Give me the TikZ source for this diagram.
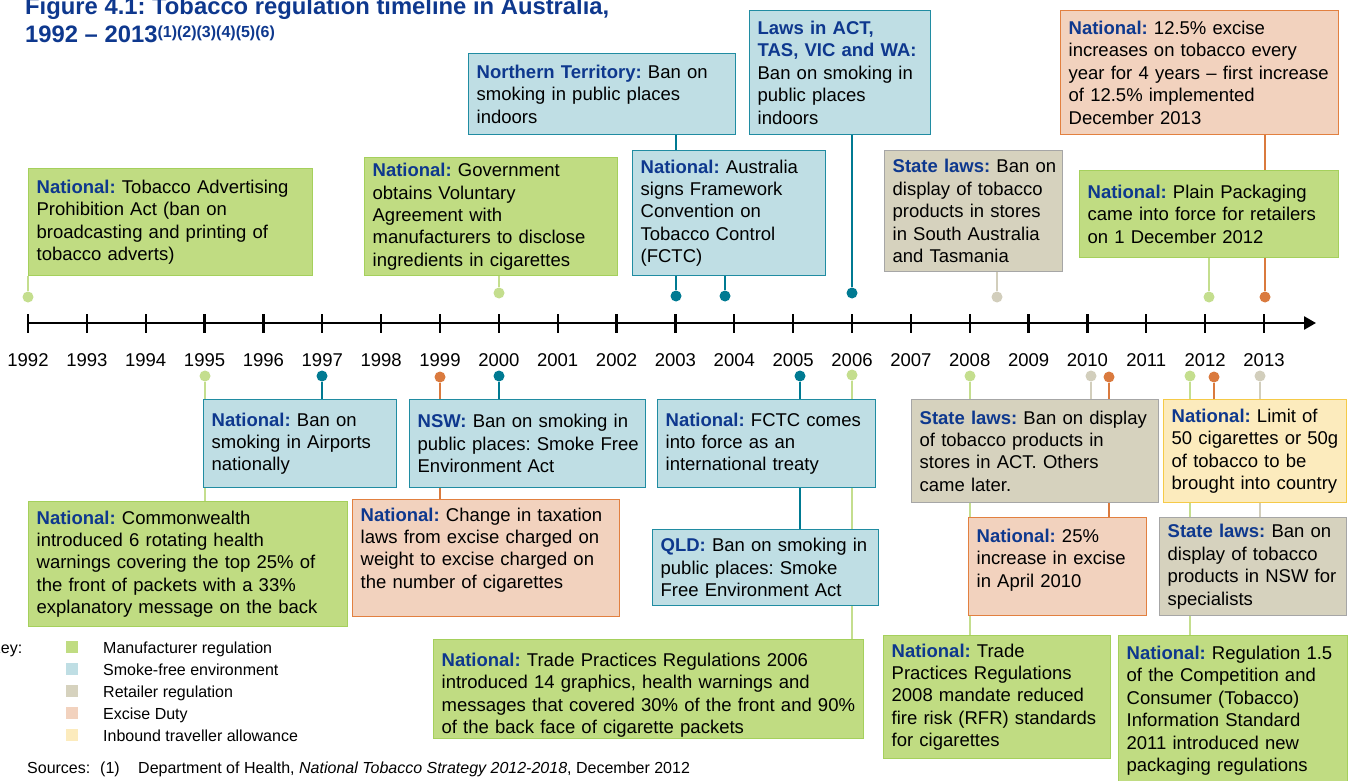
\documentclass[tikz,border=0pt]{standalone}
\usepackage{fontspec}
\setmainfont{Liberation Sans}
\usetikzlibrary{arrows.meta}
\pgfdeclarelayer{background}
\pgfsetlayers{background,main}

\definecolor{navy}{RGB}{14,56,142}
\definecolor{gfill}{RGB}{192,220,130}
\definecolor{gdraw}{RGB}{165,208,92}
\definecolor{gdot}{RGB}{196,222,142}
\definecolor{bfill}{RGB}{191,222,228}
\definecolor{bdraw}{RGB}{32,140,162}
\definecolor{bdot}{RGB}{0,122,146}
\definecolor{rfill}{RGB}{214,210,190}
\definecolor{rdraw}{RGB}{166,166,166}
\definecolor{rdot}{RGB}{210,206,188}
\definecolor{efill}{RGB}{242,210,190}
\definecolor{edraw}{RGB}{226,128,64}
\definecolor{edot}{RGB}{218,122,62}
\definecolor{yfill}{RGB}{252,235,189}
\definecolor{ydraw}{RGB}{245,202,72}

\newcommand{\lab}[1]{\textbf{\color{navy}#1}}
\newcommand{\bodyfont}{\fontsize{18.5}{22.4}\selectfont}
\newcommand{\keyfont}{\fontsize{16}{22}\selectfont}

\begin{document}
\frenchspacing\hyphenpenalty=10000\exhyphenpenalty=10000
\begin{tikzpicture}[x=1pt,y=-1pt]
	\tikzstyle{box}=[anchor=north west,align=left,inner xsep=8pt,inner ysep=0pt,line width=1.3pt,font=\bodyfont,execute at begin node={\rightskip=0pt minus 40pt\relax}]
	\tikzstyle{gbox}=[box,fill=gfill,draw=gdraw]
	\tikzstyle{bbox}=[box,fill=bfill,draw=bdraw]
	\tikzstyle{rbox}=[box,fill=rfill,draw=rdraw]
	\tikzstyle{ebox}=[box,fill=efill,draw=edraw]
	\tikzstyle{ybox}=[box,fill=yfill,draw=ydraw]
	\tikzstyle{dot}=[circle,inner sep=0pt,minimum size=11pt]
	\tikzstyle{link}=[line width=2.6pt]
	\tikzstyle{year}=[font=\bodyfont,inner sep=0pt]
	\tikzstyle{swatch}=[inner sep=0pt,minimum size=12pt]
	\tikzstyle{keytext}=[font=\keyfont,anchor=base west,inner sep=0pt]
	\useasboundingbox (0,0) rectangle (1352,781);

	% title
	\node[anchor=base west,inner sep=0pt,font=\fontsize{23.8}{28}\selectfont\bfseries,text=navy] (title1) at (25,15) {Figure 4.1: Tobacco regulation timeline in Australia,};
	\node[anchor=base west,inner sep=0pt,font=\fontsize{23.8}{28}\selectfont\bfseries,text=navy] (title2) at (25,43) {1992 -- 2013\raisebox{5.5pt}{\fontsize{16}{16}\selectfont(1)(2)(3)(4)(5)(6)}};

	% timeline
	\coordinate (ax0) at (27,323);
	\coordinate (ax1) at (1316,323);
	\draw[line width=2.6pt,-{Triangle[length=12pt,width=13pt]}] (ax0) -- (ax1);
	\foreach \yr [count=\i from 0] in {1992,...,2013} {
		\draw[line width=2.2pt] ({28+58.857*\i},314) -- ({28+58.857*\i},333);
		\node[year] (y\yr) at ({28+58.857*\i},360) {\yr};
	}

	% events above the line
	\node[gbox,text width=268pt,minimum height=107pt] (advert) at (28,168) {\lab{National:} Tobacco Advertising\\Prohibition Act (ban on\\broadcasting and printing of\\tobacco adverts)};
	\node[gbox,text width=237pt,minimum height=118pt] (ingred) at (364,157) {\lab{National:} Government\\obtains Voluntary\\Agreement with\\manufacturers to disclose\\ingredients in cigarettes};
	\node[bbox,text width=251pt,minimum height=81pt] (ntsmoke) at (468,53) {\lab{Northern Territory:} Ban on\\smoking in public places\\indoors};
	\node[bbox,text width=177pt,minimum height=125pt] (fctcsign) at (632,150) {\lab{National:} Australia\\signs Framework\\Convention on\\Tobacco Control\\(FCTC)};
	\node[bbox,text width=165pt,minimum height=124pt] (actlaws) at (749,10) {\lab{Laws in ACT,}\\\lab{TAS, VIC and WA:}\\Ban on smoking in\\public places\\indoors};
	\node[rbox,text width=162pt,minimum height=121pt] (sadisplay) at (884,150) {\lab{State laws:} Ban on\\display of tobacco\\products in stores\\in South Australia\\and Tasmania};
	\node[ebox,text width=262pt,minimum height=124pt] (excise13) at (1060,10) {\lab{National:} 12.5\% excise\\increases on tobacco every\\year for 4 years -- first increase\\of 12.5\% implemented\\December 2013};
	\node[gbox,text width=243pt,minimum height=87pt] (plainpack) at (1079,170) {\lab{National:} Plain Packaging\\came into force for retailers\\on 1 December 2012};

	% events below the line
	\node[bbox,text width=177pt,minimum height=88pt] (airports) at (203,399) {\lab{National:} Ban on\\smoking in Airports\\nationally};
	\node[gbox,text width=303pt,minimum height=125pt] (warnings) at (28,501) {\lab{National:} Commonwealth\\introduced 6 rotating health\\warnings covering the top 25\% of\\the front of packets with a 33\%\\explanatory message on the back};
	\node[bbox,text width=220pt,minimum height=88pt] (nswsmoke) at (409,399) {\lab{NSW:} Ban on smoking in\\public places: Smoke Free\\Environment Act};
	\node[ebox,text width=251pt,minimum height=117pt] (taxchange) at (352,499) {\lab{National:} Change in taxation\\laws from excise charged on\\weight to excise charged on\\the number of cigarettes\\[-2pt]\mbox{}};
	\node[bbox,text width=202pt,minimum height=88pt] (fctcforce) at (657,399) {\lab{National:} FCTC comes\\into force as an\\international treaty};
	\node[bbox,text width=210pt,minimum height=76pt] (qldsmoke) at (652,529) {\lab{QLD:} Ban on smoking in\\public places: Smoke\\Free Environment Act};
	\node[gbox,text width=414pt,minimum height=99pt] (tp2006) at (433,639) {\lab{National:} Trade Practices Regulations 2006\\introduced 14 graphics, health warnings and\\messages that covered 30\% of the front and 90\%\\of the back face of cigarette packets\\[-30.5pt]\mbox{}};
	\node[rbox,text width=231pt,minimum height=103pt] (actdisplay) at (911,399) {\lab{State laws:} Ban on display\\of tobacco products in\\stores in ACT. Others\\came later.};
	\node[ebox,text width=162pt,minimum height=98pt] (excise10) at (968,517) {\lab{National:} 25\%\\increase in excise\\in April 2010\\[-5.5pt]\mbox{}};
	\node[gbox,text width=211pt,minimum height=123pt] (tp2008) at (883,635) {\lab{National:} Trade\\Practices Regulations\\2008 mandate reduced\\fire risk (RFR) standards\\for cigarettes};
	\node[ybox,text width=167pt,minimum height=103pt] (travel) at (1163,399) {\lab{National:} Limit of\\50 cigarettes or 50g\\of tobacco to be\\brought into country};
	\node[rbox,text width=171pt,minimum height=98pt] (nswdisplay) at (1159,517) {\lab{State laws:} Ban on\\display of tobacco\\products in NSW for\\specialists};
	\node[gbox,text width=213pt,minimum height=150pt] (infostd) at (1118,635) {\lab{National:} Regulation 1.5\\of the Competition and\\Consumer (Tobacco)\\Information Standard\\2011 introduced new\\packaging regulations};

	% markers on the line
	\node[dot,fill=gdot] (padvert) at (28,297) {};
	\node[dot,fill=gdot] (pingred) at (499,293) {};
	\node[dot,fill=bdot] (pntsmoke) at (676,296) {};
	\node[dot,fill=bdot] (pfctcsign) at (725,296) {};
	\node[dot,fill=bdot] (pactlaws) at (852,293) {};
	\node[dot,fill=rdot] (psadisplay) at (997,297) {};
	\node[dot,fill=gdot] (pplainpack) at (1209,297) {};
	\node[dot,fill=edot] (pexcise13) at (1265,297) {};
	\node[dot,fill=gdot] (pwarnings) at (205,376) {};
	\node[dot,fill=bdot] (pairports) at (322,376) {};
	\node[dot,fill=edot] (ptaxchange) at (440,377) {};
	\node[dot,fill=bdot] (pnswsmoke) at (499,376) {};
	\node[dot,fill=bdot] (pfctcforce) at (800,376) {};
	\node[dot,fill=gdot] (ptp2006) at (852,375) {};
	\node[dot,fill=gdot] (ptp2008) at (970,376) {};
	\node[dot,fill=rdot] (pactdisplay) at (1091,376) {};
	\node[dot,fill=edot] (pexcise10) at (1109,377) {};
	\node[dot,fill=gdot] (pinfostd) at (1190,376) {};
	\node[dot,fill=edot] (ptravel) at (1214,377) {};
	\node[dot,fill=rdot] (pnswdisplay) at (1260,376) {};

	% connectors, behind the boxes
	\begin{pgfonlayer}{background}
		\fill[white] (0,0) rectangle (1352,781);
		\draw[link,gdot] (padvert) -- (padvert |- advert.south);
		\draw[link,gdot] (pingred) -- (pingred |- ingred.south);
		\draw[link,bdot] (pntsmoke) -- (pntsmoke |- ntsmoke.south);
		\draw[link,bdot] (pfctcsign) -- (pfctcsign |- fctcsign.south);
		\draw[link,bdot] (pactlaws) -- (pactlaws |- actlaws.south);
		\draw[link,rdot] (psadisplay) -- (psadisplay |- sadisplay.south);
		\draw[link,gdot] (pplainpack) -- (pplainpack |- plainpack.south);
		\draw[link,edot] (pexcise13) -- (pexcise13 |- excise13.south);
		\draw[link,gdot] (pwarnings) -- (pwarnings |- warnings.north);
		\draw[link,bdot] (pairports) -- (pairports |- airports.north);
		\draw[link,edot] (ptaxchange) -- (ptaxchange |- taxchange.north);
		\draw[link,bdot] (pnswsmoke) -- (pnswsmoke |- nswsmoke.north);
		\draw[link,bdot] (pfctcforce) -- (pfctcforce |- qldsmoke.north);
		\draw[link,gdot] (ptp2006) -- (ptp2006 |- tp2006.north);
		\draw[link,gdot] (ptp2008) -- (ptp2008 |- tp2008.north);
		\draw[link,rdot] (pactdisplay) -- (pactdisplay |- actdisplay.north);
		\draw[link,edot] (pexcise10) -- (pexcise10 |- excise10.north);
		\draw[link,gdot] (pinfostd) -- (pinfostd |- infostd.north);
		\draw[link,edot] (ptravel) -- (ptravel |- travel.north);
		\draw[link,rdot] (pnswdisplay) -- (pnswdisplay |- nswdisplay.north);
	\end{pgfonlayer}

	% key
	\node[keytext] (keyhead) at (-10,653) {Key:};
	\foreach \c/\t [count=\k] in {gfill/Manufacturer regulation,bfill/Smoke-free environment,rfill/Retailer regulation,efill/Excise Duty,yfill/Inbound traveller allowance} {
		\node[swatch,fill=\c] (k\k) at (72,{625+22*\k}) {};
		\node[keytext] (kt\k) at (103,{631+22*\k}) {\t};
	}

	% sources
	\node[keytext] (src) at (27,773) {Sources:};
	\node[keytext] (src1) at (100,773) {(1)};
	\node[keytext] (src2) at (138,773) {Department of Health, \textit{National Tobacco Strategy 2012-2018}, December 2012};
\end{tikzpicture}
\end{document}
